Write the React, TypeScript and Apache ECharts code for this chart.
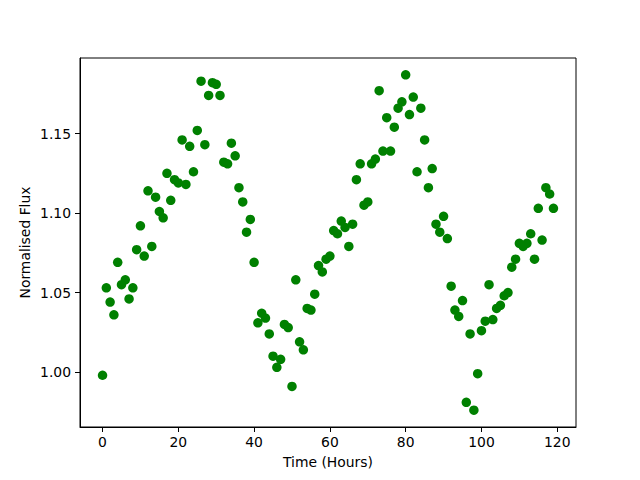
import React, { useEffect, useRef } from "react";
import * as echarts from "echarts";

const hours: number[] = Array.from({ length: 120 }, (_, i) => i);
const flux: number[] = [
  0.998, 1.053, 1.044, 1.036, 1.069, 1.055, 1.058, 1.046, 1.053, 1.077,
  1.092, 1.073, 1.114, 1.079, 1.110, 1.101, 1.097, 1.125, 1.108, 1.121,
  1.119, 1.146, 1.118, 1.142, 1.126, 1.152, 1.183, 1.143, 1.174, 1.182,
  1.181, 1.174, 1.132, 1.131, 1.144, 1.136, 1.116, 1.107, 1.088, 1.096,
  1.069, 1.031, 1.037, 1.034, 1.024, 1.010, 1.003, 1.008, 1.030, 1.028,
  0.991, 1.058, 1.019, 1.014, 1.040, 1.039, 1.049, 1.067, 1.063, 1.071,
  1.073, 1.089, 1.087, 1.095, 1.091, 1.079, 1.093, 1.121, 1.131, 1.105,
  1.107, 1.131, 1.134, 1.177, 1.139, 1.160, 1.139, 1.154, 1.166, 1.170,
  1.187, 1.162, 1.173, 1.126, 1.166, 1.146, 1.116, 1.128, 1.093, 1.088,
  1.098, 1.084, 1.054, 1.039, 1.035, 1.045, 0.981, 1.024, 0.976, 0.999,
  1.026, 1.032, 1.055, 1.033, 1.040, 1.042, 1.048, 1.050, 1.066, 1.071,
  1.081, 1.079, 1.081, 1.087, 1.071, 1.103, 1.083, 1.116, 1.112, 1.103,
];
const xTitle = "Time (Hours)";
const yTitle = "Normalised Flux";

export default function App() {
  const ref = useRef<HTMLDivElement>(null);
  useEffect(() => {
    if (!ref.current) return;
    const chart = echarts.init(ref.current, undefined, { renderer: "svg" });
    const xs = hours;
    const xMin = Math.min(...xs), xMax = Math.max(...xs);
    const yMin = Math.min(...flux), yMax = Math.max(...flux);
    const xm = (xMax - xMin) * 0.05;
    const ym = (yMax - yMin) * 0.05;
    const font = "DejaVu Sans";
    chart.setOption({
      animation: false,
      backgroundColor: "#fff",
      grid: {
        left: 80, right: 64, top: 58, bottom: 53,
        show: true, borderColor: "#000", borderWidth: 1, backgroundColor: "transparent",
      },
      xAxis: {
        type: "value",
        min: xMin - xm,
        max: xMax + xm,
        splitNumber: 7,
        name: xTitle,
        nameLocation: "middle",
        nameGap: 28,
        nameMoveOverlap: false,
        nameTextStyle: { fontFamily: font, fontSize: 13.9, color: "#000" },
        axisLine: { show: true, onZero: false, lineStyle: { color: "#000", width: 1 } },
        axisTick: { show: true, inside: false, length: 5, lineStyle: { color: "#000", width: 1 } },
        axisLabel: {
          showMinLabel: false, showMaxLabel: false, margin: 8,
          fontFamily: font, fontSize: 13.9, color: "#000",
          formatter: (v: number) => (Math.abs(v % 20) < 1e-6 ? String(Math.round(v)) : ""),
        },
        splitLine: { show: false },
      },
      yAxis: {
        type: "value",
        min: yMin - ym,
        max: yMax + ym,
        splitNumber: 5,
        name: yTitle,
        nameLocation: "middle",
        nameGap: 48,
        nameMoveOverlap: false,
        nameTextStyle: { fontFamily: font, fontSize: 13.9, color: "#000" },
        axisLine: { show: true, onZero: false, lineStyle: { color: "#000", width: 1 } },
        axisTick: { show: true, inside: false, length: 5, lineStyle: { color: "#000", width: 1 } },
        axisLabel: {
          showMinLabel: false, showMaxLabel: false, margin: 9,
          fontFamily: font, fontSize: 13.9, color: "#000",
          formatter: (v: number) => {
            const r = Math.round(v * 100) / 100;
            return Math.abs(r * 20 - Math.round(r * 20)) < 1e-6 && Math.abs(v - r) < 1e-6 ? r.toFixed(2) : "";
          },
        },
        splitLine: { show: false },
      },
      series: [
        {
          type: "scatter",
          data: hours.map((h, i) => [h, flux[i]]),
          symbol: "circle",
          symbolSize: 9.5,
          itemStyle: { color: "#008000", opacity: 1 },
        },
      ],
    });
    return () => chart.dispose();
  }, []);
  return <div ref={ref} style={{ width: 640, height: 480, position: "absolute", left: 0, top: 0 }} />;
}
